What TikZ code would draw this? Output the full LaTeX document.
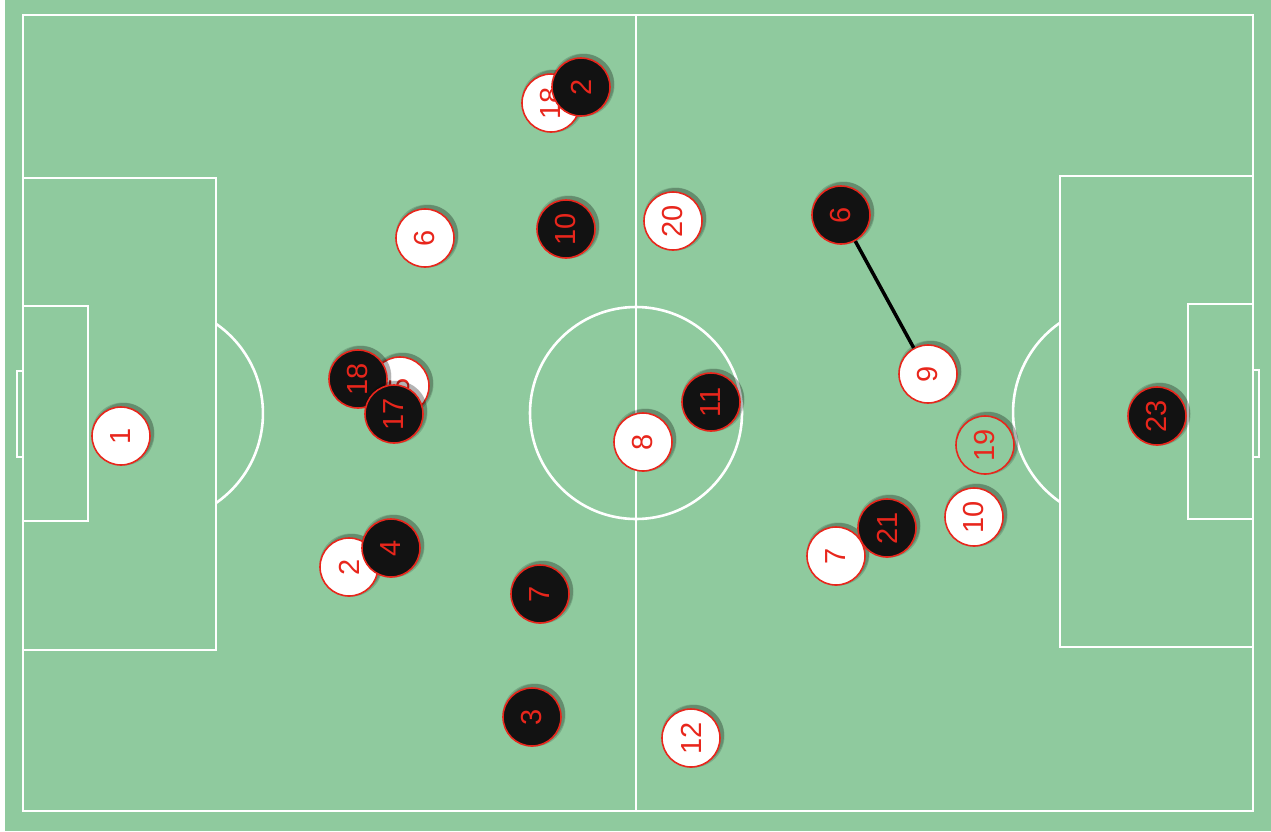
\documentclass[tikz,border=0pt]{standalone}
\usepackage{fontspec}
\setmainfont{Liberation Sans}
\definecolor{pitch}{RGB}{143,202,158}
\definecolor{pred}{RGB}{232,38,28}
\definecolor{pblack}{RGB}{18,18,18}
\tikzset{
  line/.style={draw=white,line width=2.6pt},
  player/.style={circle,minimum size=58pt,inner sep=0pt,draw=pred,line width=1.6pt,text=pred,
    font=\fontsize{29}{31}\selectfont,rotate=90},
  home/.style={player,fill=white},
  away/.style={player,fill=pblack},
  ghost/.style={player,fill=pitch},
  shade/.style={fill=black,opacity=0.16},
  link/.style={draw=black,line width=3.5pt}
}
\newcommand{\shd}[2]{\fill[shade] (#1+3,#2-3) circle[radius=30pt];\fill[shade] (#1+2,#2-2) circle[radius=31.5pt];}
\begin{document}
\begin{tikzpicture}[x=1pt,y=-1pt]
\useasboundingbox (0,0) rectangle (1271,831);
\fill[pitch] (0,0) rectangle (1271,831);
\fill[white] (0,0) rectangle (5,831);
% pitch lines
\draw[line] (23,15) rectangle (1253,811);
\draw[line] (636,15) -- (636,811);
\draw[line] (636,413) circle[radius=106pt];
\draw[line] (23,178) rectangle (216,650);
\draw[line] (23,306) rectangle (88,521);
\draw[line] (23,371) -- (17,371) -- (17,457) -- (23,457);
\draw[line] (216,503) arc[start angle=-55.3,end angle=55.3,radius=109pt];
\draw[line] (1060,176) rectangle (1253,647);
\draw[line] (1188,304) rectangle (1253,519);
\draw[line] (1253,370) -- (1259,370) -- (1259,457) -- (1253,457);
\draw[line] (1060,502) arc[start angle=-124.7,end angle=-235.3,radius=109pt];
% home (white) players
\shd{121}{436}\node[home] (h1) at (121,436) {1};
\shd{551}{103}\node[home] (h18) at (551,103) {18};
\shd{425}{238}\node[home] (h6) at (425,238) {6};
\shd{673}{221}\node[home] (h20) at (673,221) {20};
\shd{400}{386}\node[home] (h5) at (400,386) {5};
\shd{349}{567}\node[home] (h2) at (349,567) {2};
\shd{643}{442}\node[home] (h8) at (643,442) {8};
\shd{691}{738}\node[home] (h12) at (691,738) {12};
\shd{928}{374}\node[home] (h9) at (928,374) {9};
\shd{836}{556}\node[home] (h7) at (836,556) {7};
\shd{974}{517}\node[home] (h10) at (974,517) {10};
\shd{985}{445}\node[ghost] (h19) at (985,445) {19};
% away (black) players
\shd{581}{87}\node[away] (a2) at (581,87) {2};
\shd{566}{229}\node[away] (a10) at (566,229) {10};
\shd{358}{379}\node[away] (a18) at (358,379) {18};
\shd{394}{414}\node[away] (a17) at (394,414) {17};
\shd{391}{548}\node[away] (a4) at (391,548) {4};
\shd{540}{594}\node[away] (a7) at (540,594) {7};
\shd{532}{717}\node[away] (a3) at (532,717) {3};
\shd{711}{402}\node[away] (a11) at (711,402) {11};
\shd{841}{215}\node[away] (a6) at (841,215) {6};
\shd{887}{528}\node[away] (a21) at (887,528) {21};
\shd{1157}{416}\node[away] (a23) at (1157,416) {23};
% link
\draw[link] (a6) -- (h9);
\end{tikzpicture}
\end{document}
